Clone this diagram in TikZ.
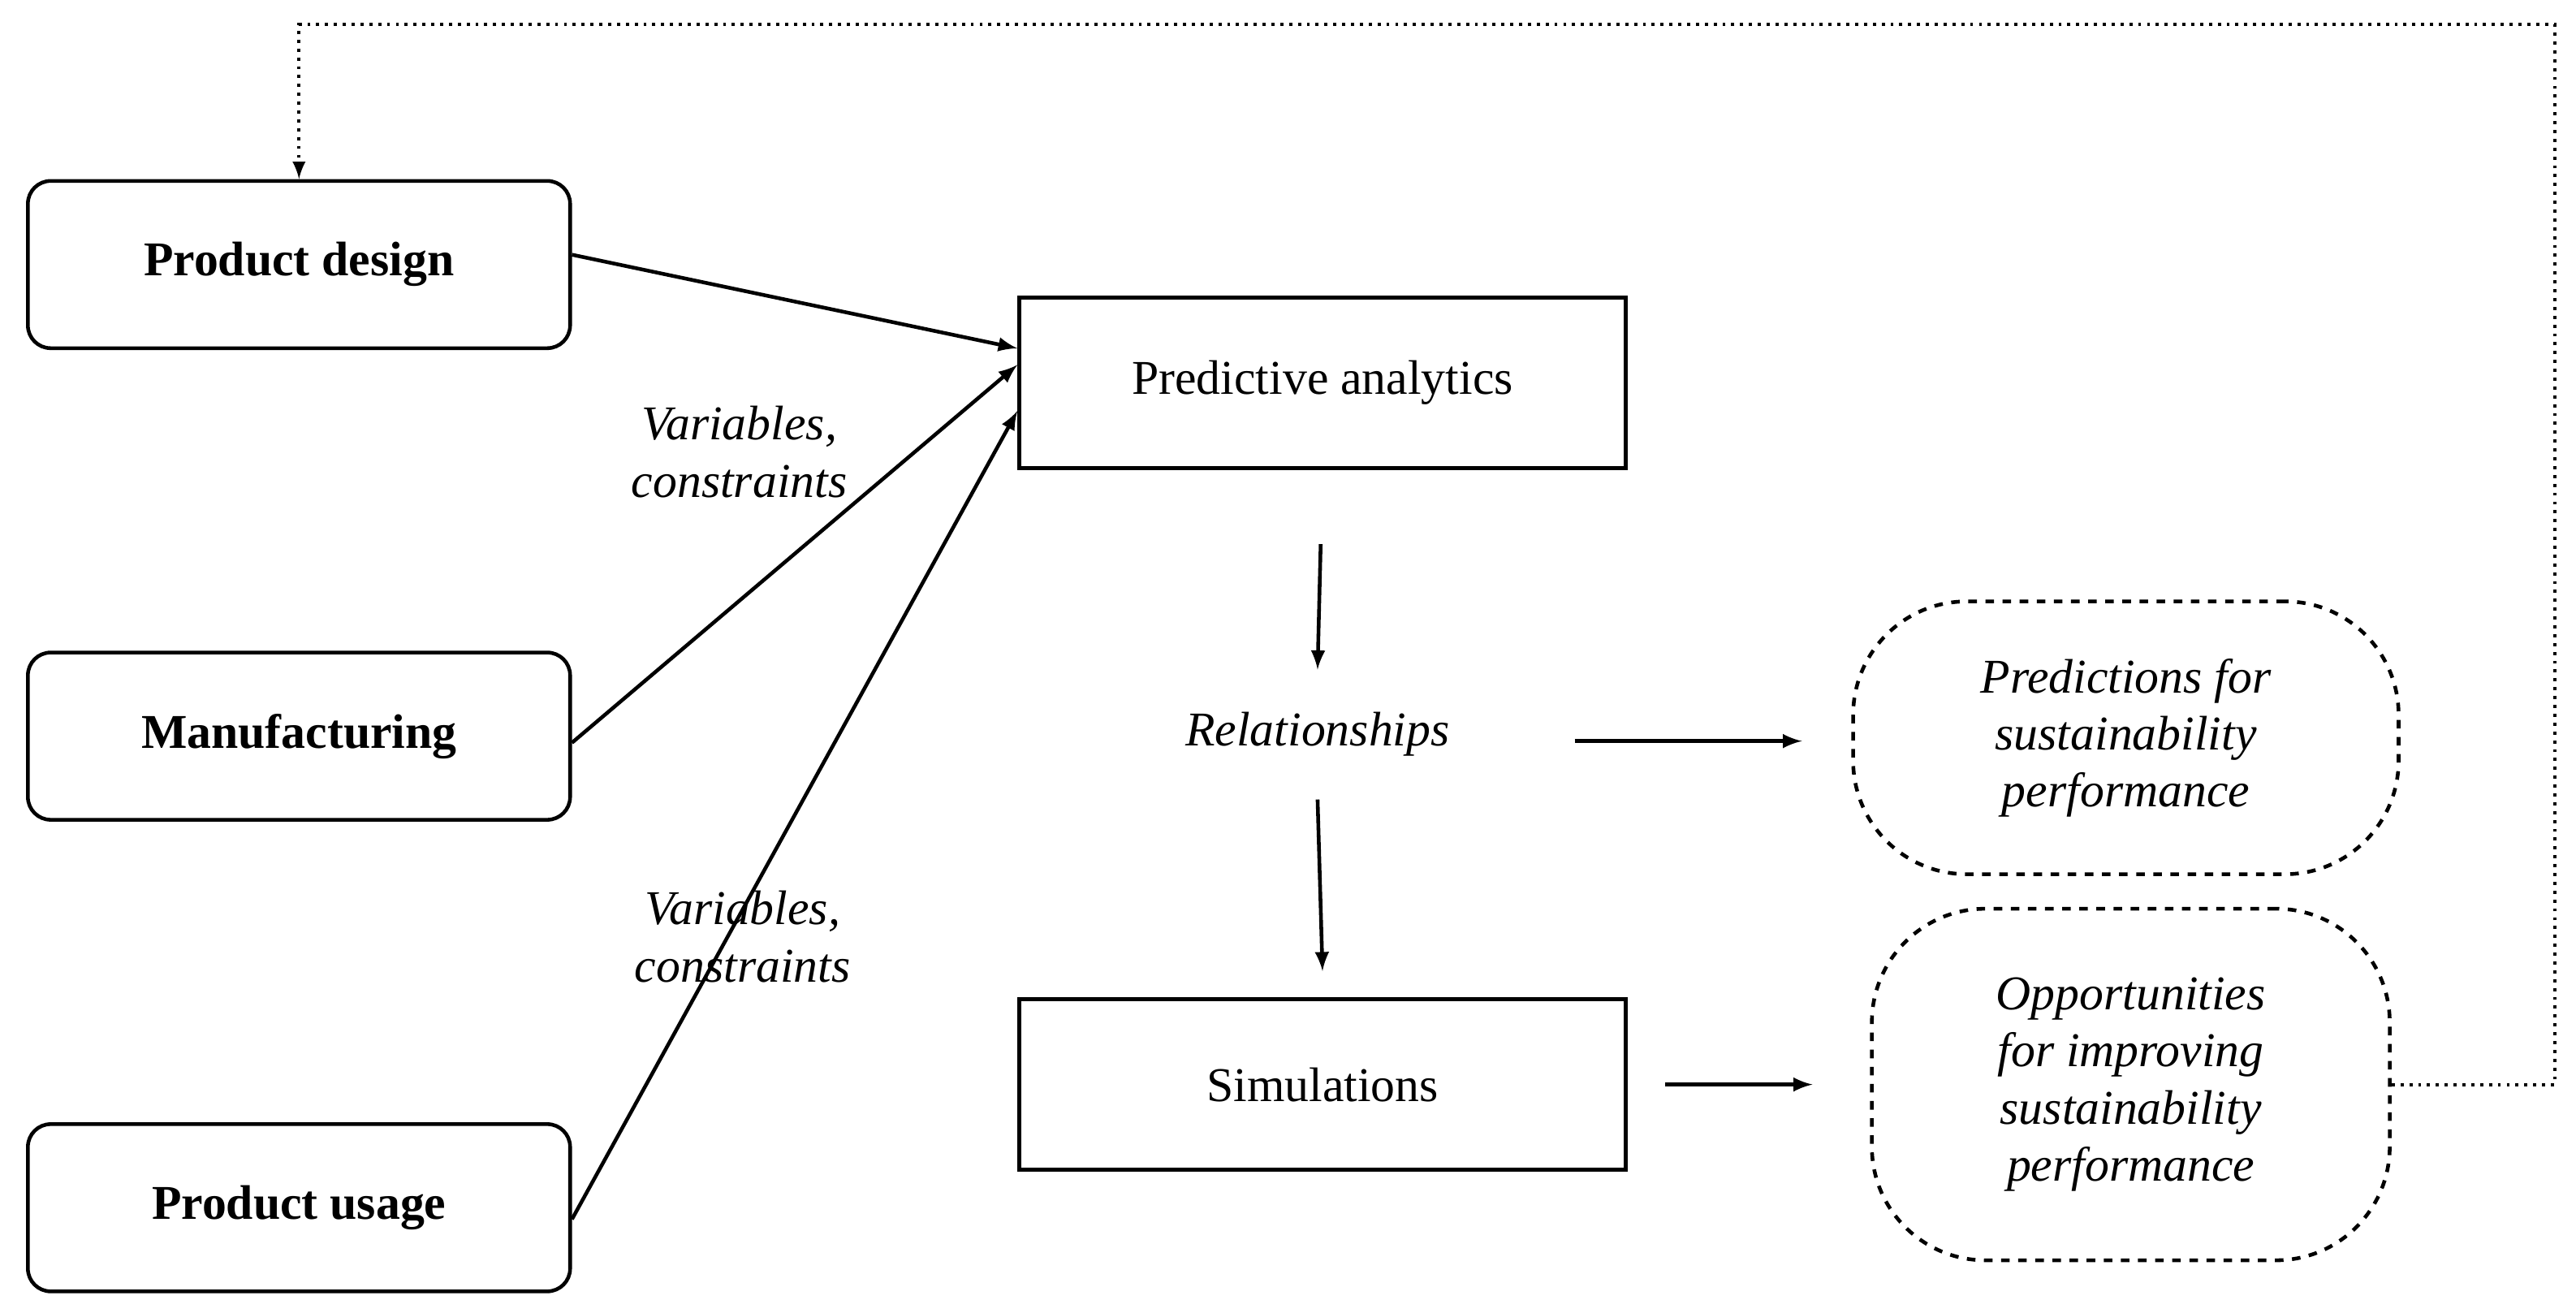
\documentclass[tikz,border=0pt]{standalone}
\usepackage{fontspec}
\setmainfont{Liberation Serif}
\usetikzlibrary{positioning,arrows,calc}
\tikzstyle{inbox}=[rectangle, rounded corners=8pt, draw, line width=1.3pt, minimum width=6.68cm, minimum height=2.06cm, font=\fontsize{17}{20}\selectfont\bfseries]
\tikzstyle{abox}=[rectangle, draw, line width=1.3pt, minimum width=7.47cm, minimum height=2.1cm, font=\fontsize{17}{20}\selectfont]
\tikzstyle{obox}=[rectangle, rounded corners=1.4cm, draw, dashed, line width=1.3pt, align=center, font=\fontsize{17}{20}\selectfont\itshape]
\tikzstyle{line}=[-latex, line width=1.3pt]
\tikzstyle{lab}=[align=center, font=\fontsize{17}{20}\selectfont\itshape]
\begin{document}
\begin{tikzpicture}[x=0.2024mm, y=-0.2024mm]
\useasboundingbox (0,0) rectangle (1568,799);

% inputs
\node (pd) [inbox] at (182,161) {Product design};
\node (mf) [inbox] at (182,448) {Manufacturing};
\node (pu) [inbox] at (182,735) {Product usage};

% analysis
\node (pa) [abox] at (805,233) {Predictive analytics};
\node (rel) [lab] at (802,447) {Relationships};
\node (sim) [abox] at (805,660) {Simulations};

% outcomes
\node (pred) [obox, minimum width=6.72cm, minimum height=3.36cm] at (1294,449)
  {Predictions for\\sustainability\\performance};
\node (opp) [obox, minimum width=6.38cm, minimum height=4.33cm] at (1297,660)
  {Opportunities\\for improving\\sustainability\\performance};

\node (var1) [lab] at (450,275) {Variables,\\constraints};
\node (var2) [lab] at (452,570) {Variables,\\constraints};

\coordinate (pa1) at ($(pa.west)+(0,-21)$);
\coordinate (pa2) at ($(pa.west)+(0,-11)$);
\coordinate (pa3) at ($(pa.west)+(0,17)$);
\draw[line] ($(pd.east)+(0,-6)$) -- (pa1);
\draw[line] ($(mf.east)+(0,4)$) -- (pa2);
\draw[line] ($(pu.east)+(0,7)$) -- (pa3);

\draw[line, shorten <=20\pgflinewidth] (pa.south) -- ($(rel.north)+(0,-20)$);
\draw[line] ($(rel.south)+(0,20)$) -- ($(sim.north)+(0,-16)$);
\draw[line] ($(rel.east)+(70,4)$) -- ($(pred.west)+(-30,2)$);
\draw[line] ($(sim.east)+(23,0)$) -- ($(opp.west)+(-35,0)$);

% feedback
\coordinate (fb1) at (1555,660);
\coordinate (fb2) at (1555,15);
\coordinate (fb3) at (182,15);
\draw[-latex, line width=1.1pt, dotted] (opp.east) -- (fb1) -- (fb2) -- (fb3) -- (pd.north);
\end{tikzpicture}
\end{document}
